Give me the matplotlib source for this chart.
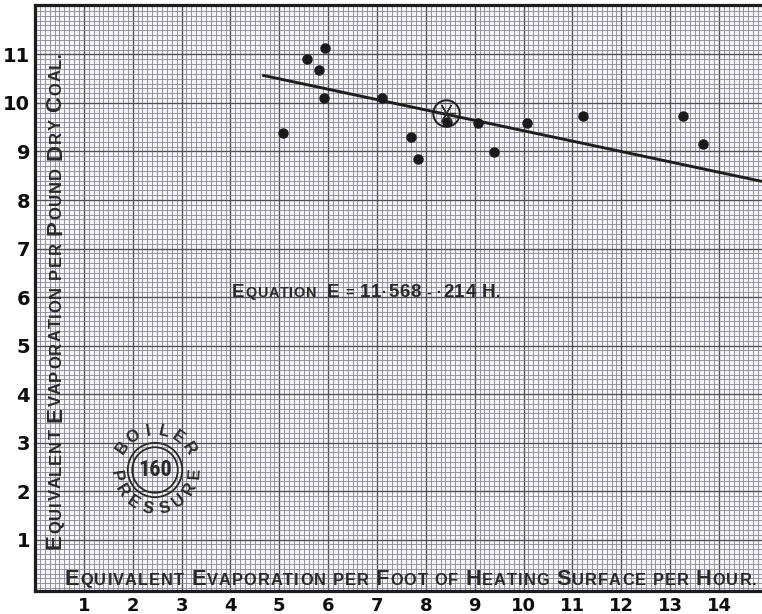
import matplotlib
matplotlib.use("Agg")
import numpy as np
import matplotlib.pyplot as plt
from matplotlib import font_manager
from matplotlib.ticker import MultipleLocator
from matplotlib.transforms import offset_copy, Affine2D, ScaledTranslation
from matplotlib.patches import Circle

# Test observations: H = evaporation per foot of heating surface per hour,
# E = equivalent evaporation per pound of dry coal
heating_rate = [5.08, 5.57, 5.94, 5.81, 5.92, 7.10, 7.70, 7.84, 8.43,
                9.07, 9.40, 10.07, 11.22, 13.27, 13.67]
evaporation = [9.38, 10.91, 11.13, 10.68, 10.10, 10.10, 9.30, 8.85, 9.61,
               9.59, 8.99, 9.59, 9.73, 9.73, 9.15]

# Centre of gravity of the observations (ringed point)
mean_rate = 8.41
mean_evap = 9.79

# Fitted straight line  E = 11.568 - 0.214 H
eq_intercept = 11.568
eq_slope = 0.214
line_start = 4.65

x_ticks = list(range(1, 15))
y_ticks = list(range(1, 12))
x_range = (0.0, 14.88)
y_range = (-0.06, 12.02)

boiler_pressure = "160"

INK = "#2a2a2a"
PAPER = "#f4f3f5"
FINE = "#878693"
HEAVY = "#4f4e58"

LETTER_FACE = ["Liberation Sans", "DejaVu Sans"]


def narrow_face():
    """Pick a condensed sans face for the stamp figures, if one is installed."""
    entries = font_manager.fontManager.ttflist
    names = {f.name for f in entries}
    for n in ("Liberation Sans Narrow", "Roboto Condensed",
              "DejaVu Sans Condensed", "Open Sans Condensed"):
        if n in names:
            return n, "normal"
    for f in entries:
        if (f.name in ("DejaVu Sans", "Noto Sans", "Open Sans", "Roboto")
                and str(f.stretch) in ("condensed", "semi-condensed")):
            return f.name, str(f.stretch)
    return "Liberation Sans", "normal"


NARROW, STRETCH = narrow_face()

W, H = 762, 614
fig = plt.figure(figsize=(W / 100, H / 100), dpi=100, facecolor="white")
ax = fig.add_axes([35 / W, (H - 591) / H, (W - 35) / W, (591 - 5) / H])
ax.set_facecolor(PAPER)
ax.set_xlim(*x_range)
ax.set_ylim(*y_range)

# Squared paper: fine rule every tenth, heavy rule every unit
ax.xaxis.set_minor_locator(MultipleLocator(0.1))
ax.yaxis.set_minor_locator(MultipleLocator(0.1))
ax.set_xticks(x_ticks)
ax.set_yticks(y_ticks)
ax.grid(which="minor", color=FINE, lw=0.6, zorder=0)
ax.grid(which="major", color=HEAVY, lw=0.95, zorder=0)
ax.set_axisbelow(True)
ax.tick_params(which="both", length=0)
ax.tick_params(axis="x", pad=4.6)
ax.tick_params(axis="y", pad=3.6)
ax.set_xticklabels([str(v) for v in x_ticks], fontsize=13, fontweight="bold",
                   color="#0d0d0d")
ax.set_yticklabels([str(v) for v in y_ticks], fontsize=14, fontweight="bold",
                   color="#0d0d0d")

for side in ("left", "top", "bottom"):
    ax.spines[side].set_linewidth(2.3)
    ax.spines[side].set_color("#1c1c1c")
ax.spines["right"].set_visible(False)

# Observations and fitted line
hs = np.array([line_start, x_range[1]])
ax.plot(hs, eq_intercept - eq_slope * hs, color="#1e1e1e", lw=2.1, zorder=3,
        solid_capstyle="butt")
ax.plot(heating_rate, evaporation, "o", color="#1a1a1a", ms=6.5,
        mec="#1a1a1a", zorder=4)
ax.plot([mean_rate], [mean_evap], "o", ms=19, mfc="none", mec="#1e1e1e",
        mew=1.4, zorder=4)
ax.plot([mean_rate], [mean_evap], marker=(6, 2, 90), ms=14, color="#2a2a2a",
        mew=0.9, zorder=4)

renderer = fig.canvas.get_renderer()
PT = 72.0 / fig.dpi


def set_glyphs(text, big, small, color):
    glyphs = []
    for ch in text:
        if ch == " ":
            glyphs.append((None, small * 0.36))
            continue
        size = big if (ch.isupper() or ch.isdigit()) else small
        t = ax.text(0, 0, ch.upper(), fontsize=size, fontweight="bold",
                    family=LETTER_FACE, color=color, ha="left",
                    va="baseline", transform=ax.transAxes,
                    rotation_mode="anchor", zorder=5)
        glyphs.append((t, t.get_window_extent(renderer).width * PT))
    return glyphs


def lettering(text, x, y, big, small, rotation=0, span_px=None, color=INK,
              min_gap=0.8):
    """Hand-lettered small capitals laid out glyph by glyph along a baseline."""
    glyphs = set_glyphs(text, big, small, color)
    n_ink = sum(1 for t, _ in glyphs if t is not None)
    total = sum(w for _, w in glyphs)
    gap = min_gap
    if span_px is not None:
        span = span_px * PT
        gap = (span - total) / max(n_ink - 1, 1)
        if gap < min_gap:
            s = (span - min_gap * (n_ink - 1)) / total
            for t, _ in glyphs:
                if t is not None:
                    t.remove()
            glyphs = set_glyphs(text, big * s, small * s, color)
            total = sum(w for _, w in glyphs)
            gap = (span - total) / max(n_ink - 1, 1)
    c, s = np.cos(np.radians(rotation)), np.sin(np.radians(rotation))
    pos = 0.0
    for t, w in glyphs:
        if t is None:
            pos += w
            continue
        t.set_transform(offset_copy(ax.transAxes, fig=fig, x=pos * c,
                                    y=pos * s, units="points"))
        t.set_position((x, y))
        t.set_rotation(rotation)
        pos += w + gap


def ax_frac(px, py):
    return (px - 35) / (W - 35), (591 - py) / (591 - 5)


# Axis titles written on the sheet
x0, y0 = ax_frac(65, 585)
lettering("Equivalent Evaporation per Foot of Heating Surface per Hour.",
          x0, y0, 16, 12, span_px=692)
x0, y0 = ax_frac(61, 549)
lettering("Equivalent Evaporation per Pound Dry Coal.",
          x0, y0, 16, 12, rotation=90, span_px=497)

# Equation of the fitted line
x0, y0 = ax_frac(232, 297)
lettering("Equation  E = 11·568 - ·214 H.", x0, y0, 15, 11.5, span_px=268,
          min_gap=0.5)

# Boiler-pressure stamp
cx, cy = ax_frac(155, 470)
stamp = Affine2D().scale(fig.dpi / 72.0) + ScaledTranslation(cx, cy, ax.transAxes)
for r in (19.6, 16.4):
    ax.add_patch(Circle((0, 0), r, transform=stamp, fill=False, ec=INK,
                        lw=1.3, zorder=5))
ax.text(0, 0, boiler_pressure, transform=stamp, ha="center", va="center",
        fontsize=16, fontweight="bold", family=[NARROW, "DejaVu Sans"],
        fontstretch=STRETCH, color=INK, zorder=5)
ring = 28.5
for ch, ang in zip("BOILER", np.linspace(145, 32, 6)):
    a = np.radians(ang)
    ax.text(ring * np.cos(a), ring * np.sin(a), ch, transform=stamp,
            rotation=ang - 90, rotation_mode="anchor", ha="center",
            va="center", fontsize=12, fontweight="bold", family=LETTER_FACE,
            color=INK, zorder=5)
for ch, ang in zip("PRESSURE", np.linspace(188, 356, 8)):
    a = np.radians(ang)
    ax.text(ring * np.cos(a), ring * np.sin(a), ch, transform=stamp,
            rotation=ang + 90, rotation_mode="anchor", ha="center",
            va="center", fontsize=12, fontweight="bold", family=LETTER_FACE,
            color=INK, zorder=5)

fig.savefig("out.png", dpi=100, facecolor="white")
